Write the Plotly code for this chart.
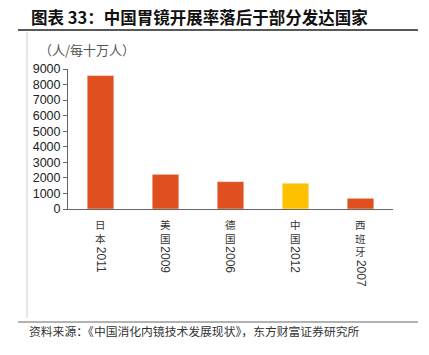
import plotly.graph_objects as go

# Data
countries = ["日本", "美国", "德国", "中国", "西班牙"]
years = ["2011", "2009", "2006", "2012", "2007"]
values = [8580, 2230, 1760, 1660, 690]
colors = ["#E04F1F", "#E04F1F", "#E04F1F", "#FFC000", "#E04F1F"]
y_ticks = [0, 1000, 2000, 3000, 4000, 5000, 6000, 7000, 8000, 9000]

title_text = "图表 33：中国胃镜开展率落后于部分发达国家"
unit_text = "（人/每十万人）"
source_text = "资料来源：《中国消化内镜技术发展现状》，东方财富证券研究所"

cats = [c + y for c, y in zip(countries, years)]

fig = go.Figure()
fig.add_trace(go.Bar(
    x=cats, y=values,
    marker=dict(color=colors, line=dict(color="rgba(255,255,255,0.6)", width=0.8)),
    width=0.41,
))

W, H = 429, 355
ml, mr, mt, mb = 68, 36, 69, 146

cjk_font = "Noto Sans CJK SC"
cjk_size = 10.5
pitch = cjk_size * 1.3

annotations = []
for cat, c, yr in zip(cats, countries, years):
    off = 6
    annotations.append(dict(
        x=cat, xref="x", y=0, yref="paper", yanchor="top", xanchor="center",
        yshift=-off, text="<br>".join(list(c)), showarrow=False,
        font=dict(family=cjk_font, size=cjk_size, color="#333333"),
    ))
    annotations.append(dict(
        x=cat, xref="x", y=0, yref="paper", yanchor="top", xanchor="center",
        yshift=-(off + len(c) * pitch + 2), text=yr, showarrow=False, textangle=90,
        font=dict(family="Liberation Sans, Arial", size=12, color="#333333"),
    ))

pw = W - ml - mr
ph = H - mt - mb

def px_x(px):
    return (px - ml) / pw

def px_y(py):
    return (H - mb - py) / ph

# Title
annotations.append(dict(
    x=px_x(29), y=px_y(17), xref="paper", yref="paper", xanchor="left", yanchor="middle",
    text="<b>" + title_text + "</b>", showarrow=False,
    font=dict(family=cjk_font, size=16.5, color="#111111"),
))
# Unit label
annotations.append(dict(
    x=px_x(37), y=px_y(49), xref="paper", yref="paper", xanchor="left", yanchor="middle",
    text=unit_text, showarrow=False,
    font=dict(family=cjk_font, size=13, color="#555555"),
))
# Source
annotations.append(dict(
    x=px_x(27), y=px_y(330), xref="paper", yref="paper", xanchor="left", yanchor="middle",
    text=source_text, showarrow=False,
    font=dict(family=cjk_font, size=11.8, color="#333333"),
))

shapes = [
    dict(type="line", xref="paper", yref="paper", x0=px_x(18), x1=px_x(418),
         y0=px_y(30), y1=px_y(30), line=dict(color="#222222", width=1.3)),
    dict(type="line", xref="paper", yref="paper", x0=px_x(27), x1=px_x(27),
         y0=px_y(32), y1=px_y(318), line=dict(color="#D0D0D0", width=1)),
    dict(type="line", xref="paper", yref="paper", x0=px_x(18), x1=px_x(418),
         y0=px_y(322), y1=px_y(322), line=dict(color="#999999", width=1.3)),
]

fig.update_layout(
    width=W, height=H,
    margin=dict(l=ml, r=mr, t=mt, b=mb, pad=0),
    paper_bgcolor="white", plot_bgcolor="white",
    showlegend=False,
    bargap=0.59,
    annotations=annotations,
    shapes=shapes,
    xaxis=dict(
        showticklabels=False, showgrid=False, zeroline=False,
        showline=True, linecolor="#666666", linewidth=1.2, ticks="",
    ),
    yaxis=dict(
        range=[0, 9000], tickvals=y_ticks, showgrid=False, zeroline=False,
        showline=True, linecolor="#666666", linewidth=1, ticks="outside",
        ticklen=4, tickcolor="#666666",
        tickfont=dict(family="Liberation Sans, Arial", size=12.5, color="#222222"),
    ),
)

fig.write_html(
    "out.html",
    config={"displayModeBar": False},
    post_script="document.body.style.margin='0';document.body.style.padding='0';",
)
